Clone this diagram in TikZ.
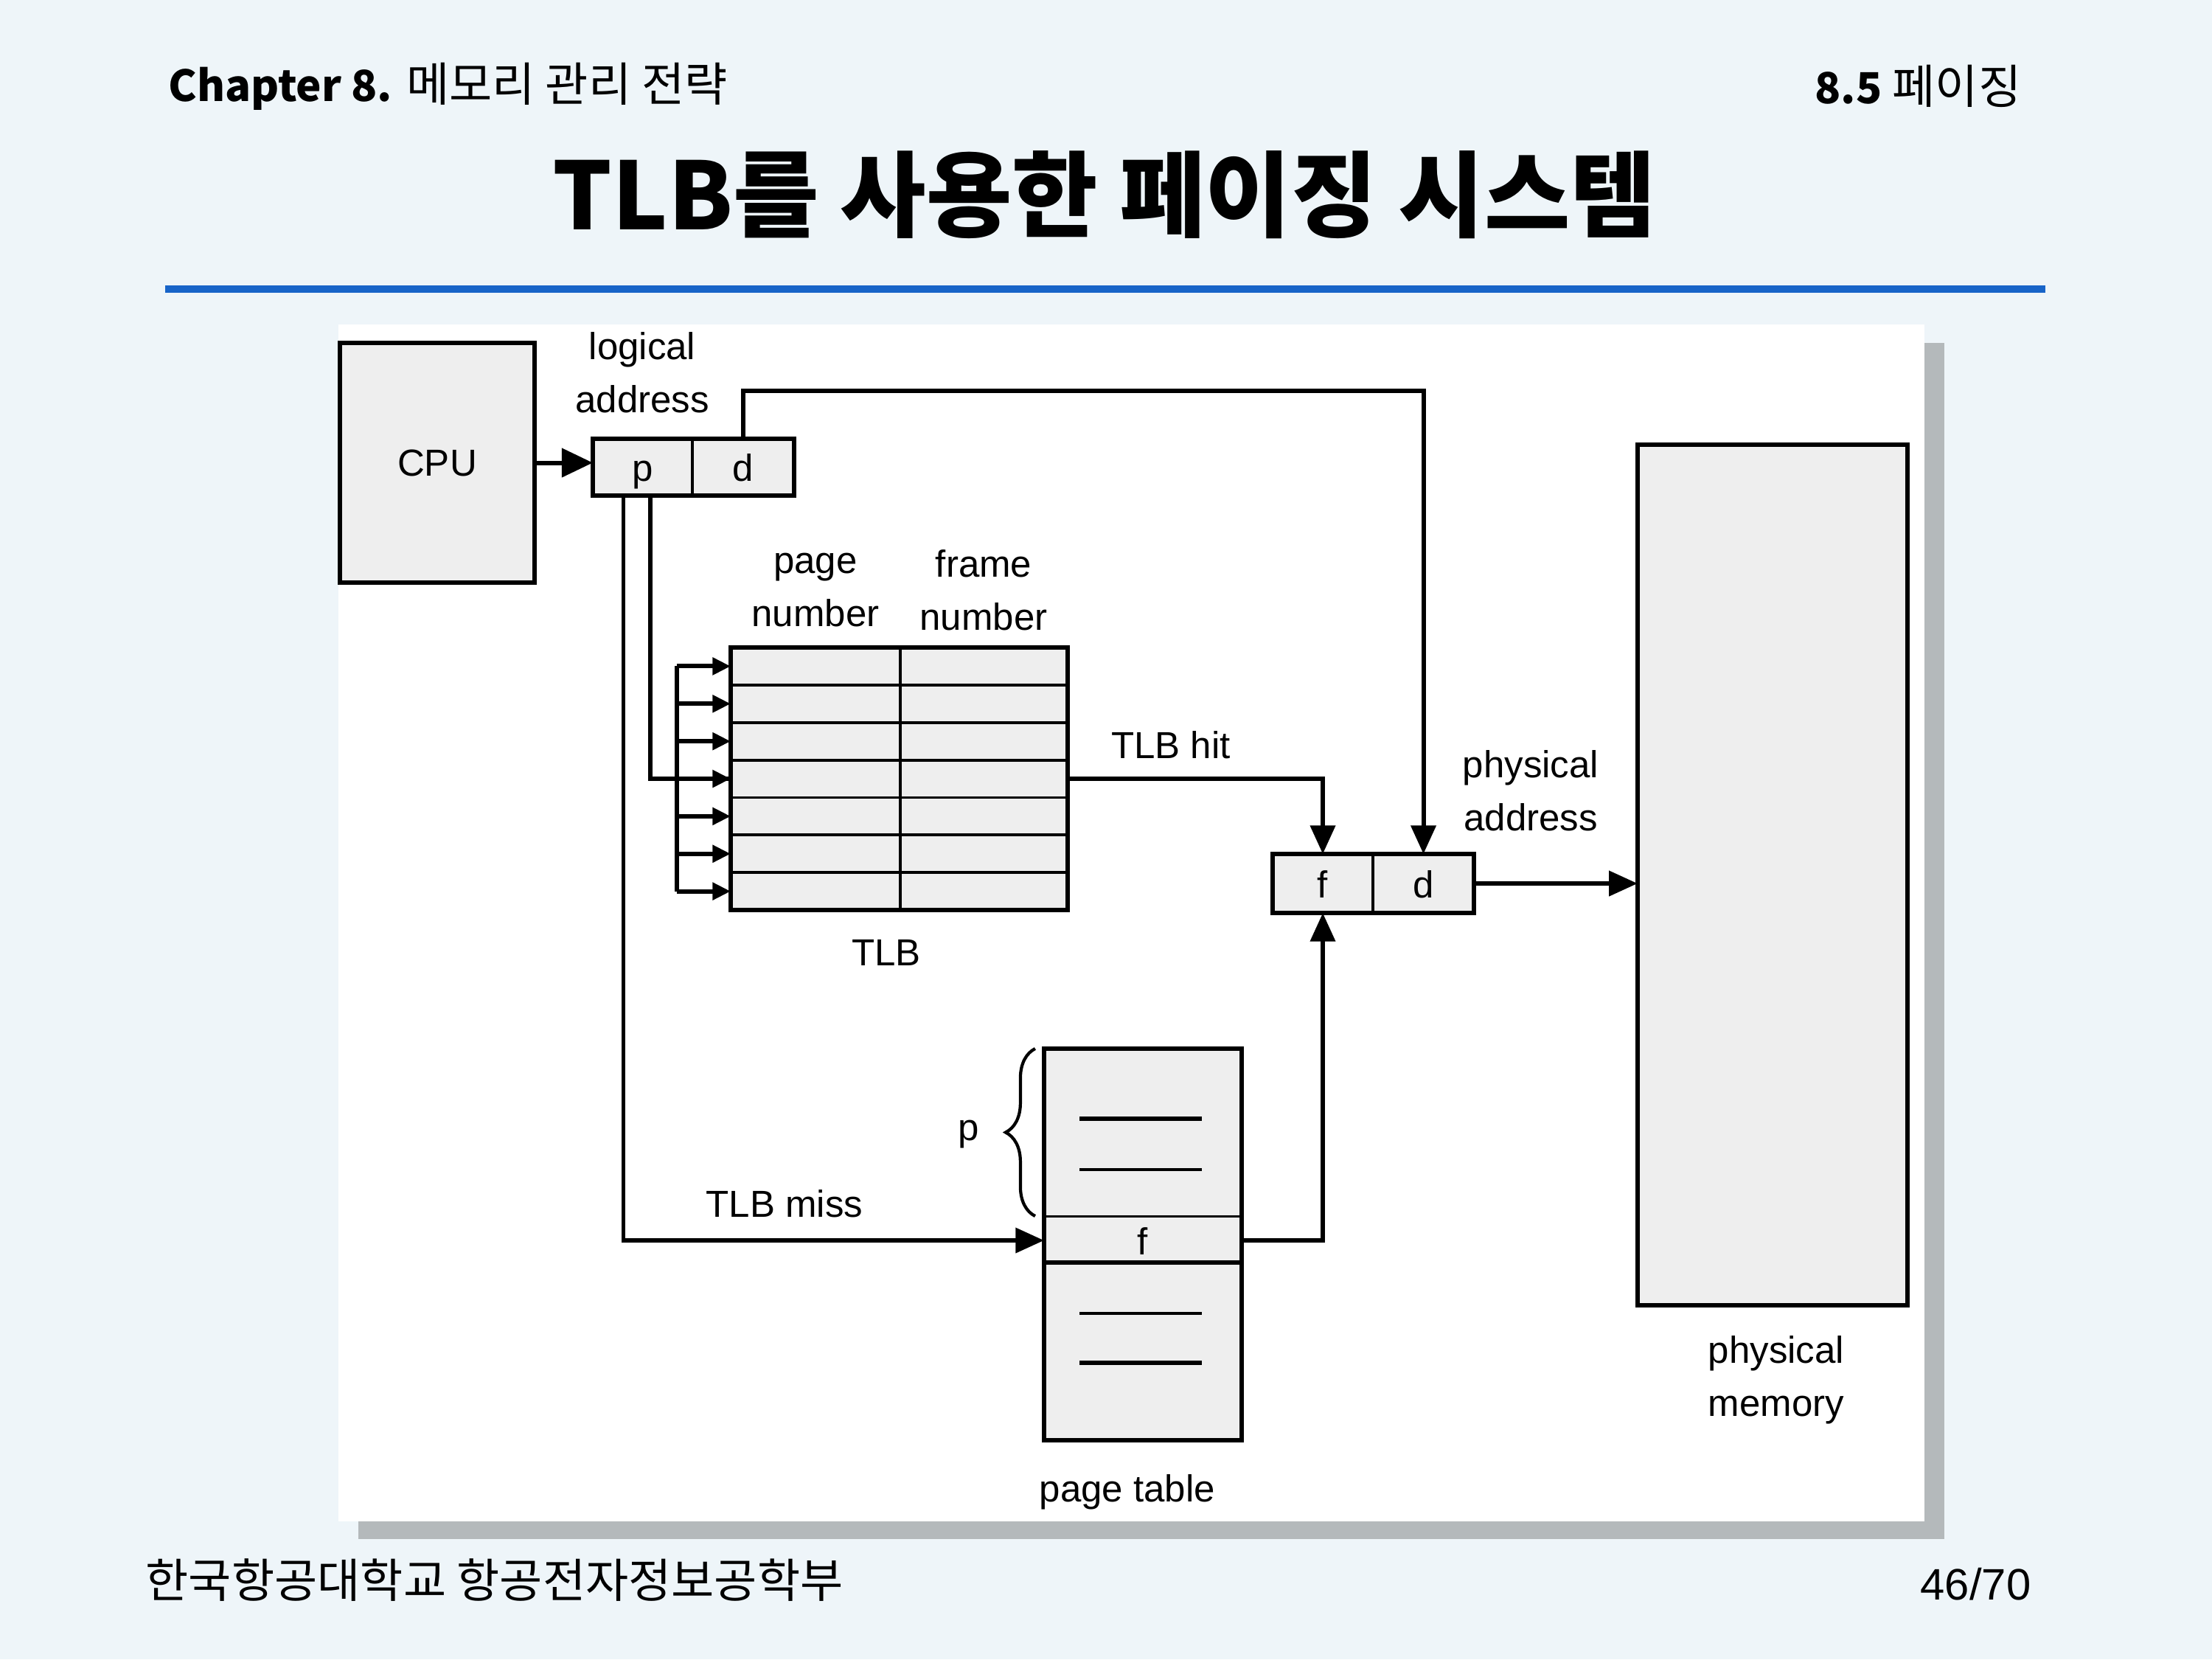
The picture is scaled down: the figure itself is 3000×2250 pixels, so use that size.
\documentclass[tikz,border=0pt]{standalone}
\usepackage{fontspec}
\setmainfont{Liberation Sans}
\newfontfamily\kr{Noto Sans CJK KR}
\usetikzlibrary{arrows.meta,decorations.pathreplacing}
\definecolor{slidebg}{HTML}{EEF5F9}
\definecolor{boxfill}{HTML}{EEEEEE}
\definecolor{shadowgrey}{HTML}{B4B9BB}
\definecolor{rulerblue}{HTML}{1764C8}

\begin{document}
\begin{tikzpicture}[x=0.01cm,y=-0.01cm,
  box/.style={draw,line width=1.7pt,fill=boxfill,inner sep=0pt,outer sep=0pt},
  cell/.style={draw,line width=1.1pt,fill=boxfill,inner sep=0pt,outer sep=0pt,
    font=\fontsize{14.5}{14.5}\selectfont,text height=1.1em,text depth=0pt},
  plain/.style={fill=boxfill,inner sep=0pt,outer sep=0pt,
    font=\fontsize{14.5}{14.5}\selectfont,text height=1.1em,text depth=0pt},
  frame/.style={draw,line width=1.7pt},
  conn/.style={line width=1.7pt},
  bigtip/.style={-{Triangle[length=12pt,width=11pt]}},
  midtip/.style={-{Triangle[length=11pt,width=9.5pt]}},
  smalltip/.style={-{Triangle[length=7pt,width=6.5pt]}},
  lbl/.style={font=\fontsize{14.5}{20.5}\selectfont,align=center,inner sep=0pt},
]
\useasboundingbox (0,0) rectangle (3000,2250);
\fill[slidebg] (0,0) rectangle (3000,2250);

% ---- slide header ----
\node[anchor=west,inner sep=0pt,font=\kr\fontsize{18}{18}\selectfont] (chap) at (228,117)
  {{\fontsize{16.5}{16.5}\selectfont\bfseries Chapter 8.} 메모리 관리 전략};
\node[anchor=east,inner sep=0pt,font=\kr\fontsize{18}{18}\selectfont] (sect) at (2742,117)
  {{\fontsize{16.5}{16.5}\selectfont\bfseries 8.5} 페이징};
\node[inner sep=0pt,font=\kr\bfseries\fontsize{36}{36}\selectfont] (title) at (1498,264) {TLB를 사용한 페이징 시스템};
\draw[rulerblue,line width=2.6pt] (224,392) -- (2774,392);

% ---- figure panel with drop shadow ----
\fill[shadowgrey] (486,465) rectangle (2637,2087);
\fill[white] (459,440) rectangle (2610,2063);

% ---- CPU ----
\node[box,minimum width=2.64cm,minimum height=3.25cm,font=\fontsize{14.5}{14.5}\selectfont] (cpu) at (593,627.5) {CPU};

% ---- logical address p | d ----
\node[cell,minimum width=1.35cm,minimum height=0.77cm] (pcell) at (871.5,633.5) {p};
\node[cell,minimum width=1.38cm,minimum height=0.77cm] (dcell) at (1008,633.5) {d};
\draw[frame] (pcell.north west) rectangle (dcell.south east);
\node[lbl] (lalbl) at (871,505) {logical\\address};

% ---- TLB ----
\foreach \i in {1,...,7}{
  \node[cell,minimum width=2.30cm,minimum height=0.5086cm] (tl\i) at (1106,{878+(\i-0.5)*50.86}) {};
  \node[cell,minimum width=2.27cm,minimum height=0.5086cm] (tr\i) at (1334.5,{878+(\i-0.5)*50.86}) {};
}
\draw[frame] (tl1.north west) rectangle (tr7.south east);
\node[lbl] (pnlbl) at (1106,800) {page\\number};
\node[lbl] (fnlbl) at (1334,800) {frame\\number};
\node[lbl] (tlblbl) at (1202,1292) {TLB};

% ---- physical address f | d ----
\node[cell,minimum width=1.36cm,minimum height=0.80cm] (fcell) at (1794,1198) {f};
\node[cell,minimum width=1.37cm,minimum height=0.80cm] (d2cell) at (1930.5,1198) {d};
\draw[frame] (fcell.north west) rectangle (d2cell.south east);
\node[lbl] (palbl) at (2076,1072) {physical\\address};

% ---- physical memory ----
\node[box,minimum width=3.66cm,minimum height=11.67cm] (mem) at (2404,1186.5) {};
\node[lbl] (pmlbl) at (2409,1871) {physical\\memory};

% ---- page table ----
\node[plain,minimum width=2.68cm,minimum height=2.27cm] (ptu) at (1550,1535.5) {};
\node[plain,minimum width=2.68cm,minimum height=0.63cm] (ptf) at (1550,1682) {f};
\node[plain,minimum width=2.68cm,minimum height=2.41cm] (ptl) at (1550,1832.5) {};
\draw[line width=0.9pt] (ptu.south west) -- (ptu.south east);
\draw[line width=1.6pt] (ptl.north west) -- (ptl.north east);
\draw[frame] (ptu.north west) rectangle (ptl.south east);
\draw[line width=1.6pt] (1464,1517) -- (1630,1517);
\draw[line width=1pt] (1464,1586) -- (1630,1586);
\draw[line width=1pt] (1464,1781) -- (1630,1781);
\draw[line width=1.6pt] (1464,1848) -- (1630,1848);
\node[lbl] (ptlbl) at (1529,2023) {page table};
\draw[line width=1.2pt,decorate,decoration={brace,amplitude=0.4cm}]
  ([xshift=-0.12cm]ptu.south west) -- ([xshift=-0.12cm]ptu.north west);
\node[lbl] (plbl) at (1314,1538) {p};

% ---- connectors ----
\draw[conn,bigtip] (cpu.east) -- (cpu.east -| pcell.west);
\draw[conn,midtip] (dcell.north) -- ++(0,-65) -| (d2cell.north);
% p fans out to every TLB entry
\draw[conn] ([xshift=0.10cm]pcell.south) |- (tl4.west);
\draw[conn] ([xshift=-0.73cm]tl1.west) -- ([xshift=-0.73cm]tl7.west);
\foreach \i in {1,...,7}{
  \draw[conn,smalltip] ([xshift=-0.73cm]tl\i.west) -- (tl\i.west);
}
% TLB hit
\draw[conn,midtip] (tr4.east) -| (fcell.north);
\node[lbl] (hitlbl) at (1588,1010) {TLB hit};
% TLB miss
\draw[conn,midtip] ([xshift=-0.26cm]pcell.south) |- (ptf.west);
\node[lbl] (misslbl) at (1064,1632) {TLB miss};
% page table entry to frame number
\draw[conn,midtip] (ptf.east) -| (fcell.south);
% physical address to memory
\draw[conn,midtip] (d2cell.east) -- (d2cell.east -| mem.west);

% ---- footer ----
\node[anchor=west,inner sep=0pt,font=\kr\fontsize{18}{18}\selectfont] (foot) at (197,2143) {한국항공대학교 항공전자정보공학부};
\node[anchor=east,inner sep=0pt,font=\fontsize{17}{17}\selectfont] (pg) at (2755,2148) {46/70};
\end{tikzpicture}
\end{document}
